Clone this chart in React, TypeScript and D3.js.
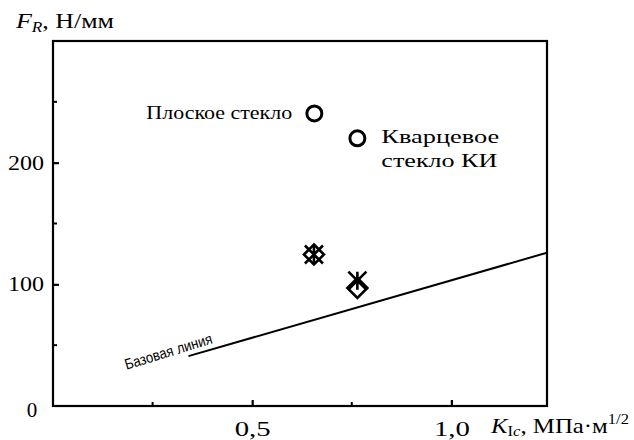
import { useRef, useEffect } from "react";
import * as d3 from "d3";

const W = 634;
const H = 440;
const MARGIN = { top: 41, right: 87, bottom: 34, left: 53 };

const X_MAX = 1.24;
const Y_MAX = 300;
const xMajorTicks = [0.5, 1.0];
const xMinorTicks = [0.25, 0.75];
const yMajorTicks = [100, 200];
const yMinorTicks = [50, 150, 250];

// open circles: glass samples
const circleLabels = ["Плоское стекло", "Кварцевое", "стекло КИ"];
const circleK = [0.656, 0.764];
const circleF = [240.5, 220];

// diamond markers and cross markers
const diamondK = [0.655, 0.764];
const diamondF = [124.5, 97];
const crossK = [0.655, 0.764];
const crossF = [124.5, 103];

// baseline
const baseK = [0.34, 1.24];
const baseF = [41, 126];

const SERIF = "Liberation Serif, DejaVu Serif, Noto Serif, serif";
const SANS = "Liberation Sans, Arial, sans-serif";

// stretch a text horizontally so that it spans `width` px starting at x0
function fit(t: d3.Selection<SVGTextElement, unknown, null, undefined>, x0: number, y0: number, width: number) {
  const node = t.node()!;
  const w = node.getComputedTextLength();
  const s = w > 0 ? width / w : 1;
  t.attr("x", 0).attr("y", 0).attr("transform", `translate(${x0},${y0}) scale(${s},1)`);
}

export default function App() {
  const ref = useRef<SVGSVGElement>(null);

  useEffect(() => {
    const svg = d3.select(ref.current);
    svg.selectAll("*").remove();

    const x = d3
      .scaleLinear()
      .domain([0, X_MAX])
      .range([MARGIN.left, W - MARGIN.right]);
    const y = d3
      .scaleLinear()
      .domain([0, Y_MAX])
      .range([H - MARGIN.bottom, MARGIN.top]);

    // frame
    svg
      .append("rect")
      .attr("x", x(0))
      .attr("y", y(Y_MAX))
      .attr("width", x(X_MAX) - x(0))
      .attr("height", y(0) - y(Y_MAX))
      .attr("fill", "none")
      .attr("stroke", "#000")
      .attr("stroke-width", 2.2);

    // y axis ticks (inward)
    const yAxis = svg.append("g").attr("transform", `translate(${x(0)},0)`);
    yAxis
      .call(
        d3
          .axisLeft(y)
          .tickValues(yMajorTicks)
          .tickSize(-6)
          .tickPadding(9)
          .tickFormat((d) => String(d))
      )
      .call((g) => g.select(".domain").remove());
    yAxis.selectAll("line").attr("stroke-width", 2.2);
    yAxis
      .selectAll("text")
      .style("font-family", SERIF)
      .style("font-size", "20px")
      .attr("textLength", 36)
      .attr("lengthAdjust", "spacingAndGlyphs")
      .attr("fill", "#000");
    yAxis
      .selectAll(".minor")
      .data(yMinorTicks)
      .join("line")
      .attr("x1", 0)
      .attr("x2", 4)
      .attr("y1", (d) => y(d))
      .attr("y2", (d) => y(d))
      .attr("stroke", "#000")
      .attr("stroke-width", 2);

    // x axis ticks (inward)
    const xAxis = svg.append("g").attr("transform", `translate(0,${y(0)})`);
    xAxis
      .call(
        d3
          .axisBottom(x)
          .tickValues(xMajorTicks)
          .tickSize(-6)
          .tickPadding(15)
          .tickFormat((d) => d3.format(".1f")(d as number).replace(".", ","))
      )
      .call((g) => g.select(".domain").remove());
    xAxis.selectAll("line").attr("stroke-width", 2.2);
    xAxis
      .selectAll("text")
      .style("font-family", SERIF)
      .style("font-size", "21px")
      .attr("textLength", 36)
      .attr("lengthAdjust", "spacingAndGlyphs")
      .attr("fill", "#000");
    xAxis
      .selectAll(".minor")
      .data(xMinorTicks)
      .join("line")
      .attr("x1", (d) => x(d))
      .attr("x2", (d) => x(d))
      .attr("y1", 0)
      .attr("y2", -4)
      .attr("stroke", "#000")
      .attr("stroke-width", 2);

    // origin label
    svg
      .append("text")
      .attr("x", x(0) - 21)
      .attr("y", y(0) + 11)
      .attr("text-anchor", "middle")
      .style("font-family", SERIF)
      .style("font-size", "21px")
      .text("0");

    // axis titles
    const yt = svg
      .append("text")
      .style("font-family", SERIF)
      .style("font-size", "21px");
    yt.append("tspan").style("font-style", "italic").text("F");
    yt.append("tspan")
      .style("font-style", "italic")
      .style("font-size", "14px")
      .attr("dy", 4)
      .text("R");
    yt.append("tspan").attr("dy", -4).text(", Н/мм");
    fit(yt, 16, 28, 98);

    const xt = svg
      .append("text")
      .style("font-family", SERIF)
      .style("font-size", "21px");
    xt.append("tspan").style("font-style", "italic").text("K");
    xt.append("tspan").style("font-size", "14px").attr("dy", 3).text("I");
    xt.append("tspan")
      .style("font-size", "14px")
      .style("font-style", "italic")
      .text("c");
    xt.append("tspan").attr("dy", -3).text(", МПа·м");
    xt.append("tspan").style("font-size", "14px").attr("dy", -9).text("1/2");
    fit(xt, 491, 433, 138);

    // baseline
    const line = d3
      .line<number>()
      .x((_, i) => x(baseK[i]))
      .y((d) => y(d));
    svg
      .append("path")
      .attr("d", line(baseF))
      .attr("fill", "none")
      .attr("stroke", "#000")
      .attr("stroke-width", 2);
    const angle =
      (Math.atan2(y(baseF[1]) - y(baseF[0]), x(baseK[1]) - x(baseK[0])) *
        180) /
      Math.PI;
    svg
      .append("text")
      .attr(
        "transform",
        `translate(${x(baseK[0]) + 25},${y(baseF[0]) - 13}) rotate(${angle - 1})`
      )
      .attr("text-anchor", "end")
      .attr("textLength", 91)
      .attr("lengthAdjust", "spacingAndGlyphs")
      .style("font-family", SANS)
      .style("font-size", "15px")
      .text("Базовая линия");

    // open circles
    svg
      .selectAll(".circ")
      .data(circleK)
      .join("circle")
      .attr("cx", (d) => x(d))
      .attr("cy", (_, i) => y(circleF[i]))
      .attr("r", 7.5)
      .attr("fill", "none")
      .attr("stroke", "#000")
      .attr("stroke-width", 3);

    const t1 = svg
      .append("text")
      .style("font-family", SERIF)
      .style("font-size", "19px")
      .text(circleLabels[0]);
    fit(t1, x(circleK[0]) - 168, y(circleF[0]) + 6, 146);

    const t2 = svg
      .append("text")
      .style("font-family", SERIF)
      .style("font-size", "19px")
      .text(circleLabels[1]);
    fit(t2, x(circleK[1]) + 24, y(circleF[1]) + 5, 118);
    const t3 = svg
      .append("text")
      .style("font-family", SERIF)
      .style("font-size", "19px")
      .text(circleLabels[2]);
    fit(t3, x(circleK[1]) + 24, y(circleF[1]) + 29, 116);

    // diamonds
    const dr = 10;
    svg
      .selectAll(".dia")
      .data(diamondK)
      .join("path")
      .attr("d", (d, i) => {
        const cx = x(d);
        const cy = y(diamondF[i]);
        return `M${cx},${cy - dr}L${cx + dr},${cy}L${cx},${cy + dr}L${cx - dr},${cy}Z`;
      })
      .attr("fill", "none")
      .attr("stroke", "#000")
      .attr("stroke-width", 2.6);
    // inner asterisk + cross
    const cr = 9;
    svg
      .selectAll(".cross")
      .data(crossK)
      .join("path")
      .attr("d", (d, i) => {
        const cx = x(d);
        const cy = y(crossF[i]);
        return (
          `M${cx - cr},${cy - cr}L${cx + cr},${cy + cr}` +
          `M${cx + cr},${cy - cr}L${cx - cr},${cy + cr}` +
          `M${cx},${cy - cr}L${cx},${cy + cr}`
        );
      })
      .attr("fill", "none")
      .attr("stroke", "#000")
      .attr("stroke-width", 2.6);
  }, []);

  return (
    <svg
      ref={ref}
      width={W}
      height={H}
      style={{ position: "absolute", left: 0, top: 0, background: "#fff" }}
    />
  );
}
